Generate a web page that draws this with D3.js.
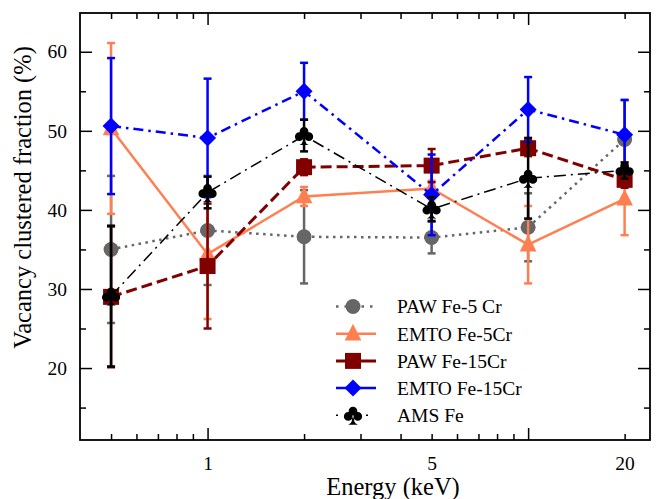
<!DOCTYPE html>
<html>
<head>
<meta charset="utf-8">
<style>
  body { margin: 0; background: #fff; }
  svg { display: block; font-family: "Liberation Serif", "Times New Roman", serif; }
</style>
</head>
<body>
<svg width="659" height="499"></svg>
<script src="https://d3js.org/d3.v7.min.js"></script>
<script>

// energies (keV) shared by all series
var energies = [0.5, 1, 2, 5, 10, 20];

var paw5 = [35.0, 37.4, 36.6, 36.5, 37.8, 48.9];
var paw5Err = [9.3, 6.9, 5.9, 2.0, 4.3, 5.0];

var emto5 = [50.3, 34.4, 41.7, 42.7, 35.6, 41.4];
var emto5Err = [10.8, 8.2, 1.2, 1.0, 4.9, 4.6];

var paw15 = [29.0, 32.9, 45.4, 45.6, 47.8, 43.8];
var paw15Err = [8.9, 7.9, 1.0, 2.1, 1.0, 1.0];

var emto15 = [50.6, 49.1, 55.0, 41.9, 52.7, 49.5];
var emto15Err = [8.6, 7.5, 3.6, 5.1, 4.1, 4.4];

var ams = [29.1, 42.2, 49.4, 40.1, 44.0, 45.0];
var amsErr = [8.9, 2.0, 2.0, 1.5, 5.1, 1.0];

var seriesNames = ["PAW Fe-5 Cr", "EMTO Fe-5Cr", "PAW Fe-15Cr", "EMTO Fe-15Cr", "AMS Fe"];

var xTicks = [0.5, 0.6, 0.7, 0.8, 0.9, 1, 2, 3, 4, 5, 6, 7, 8, 9, 10, 20];
var xLabels = [1, 5, 20];
var xMajor = [1, 10];
var yTicks = [15, 20, 25, 30, 35, 40, 45, 50, 55, 60];
var yLabels = [20, 30, 40, 50, 60];

var svg = d3.select("svg"),
    pL = 80, pR = 650, pT = 13, pB = 440;

var x = d3.scaleLog().domain([0.4, 24]).range([pL, pR]);
var y = d3.scaleLinear().domain([10.9, 64.9]).range([pB, pT]);

// club marker
function club(s) {
  var p = d3.path(), r = s * 0.23;
  [[0, -s * 0.22], [-s * 0.25, s * 0.06], [s * 0.25, s * 0.06]].forEach(function(c) {
    p.moveTo(c[0] + r, c[1]);
    p.arc(c[0], c[1], r, 0, 2 * Math.PI);
  });
  p.moveTo(-s * 0.05, 0);
  p.lineTo(-s * 0.06, s * 0.3);
  p.quadraticCurveTo(-s * 0.1, s * 0.45, -s * 0.25, s * 0.5);
  p.lineTo(s * 0.25, s * 0.5);
  p.quadraticCurveTo(s * 0.1, s * 0.45, s * 0.06, s * 0.3);
  p.lineTo(s * 0.05, 0);
  p.closePath();
  return p.toString();
}
function tri(s) {
  return "M0," + (-s * 0.62) + "L" + (s * 0.52) + "," + (s * 0.42) + "L" + (-s * 0.52) + "," + (s * 0.42) + "Z";
}
function diamond(s) {
  return "M0," + (-s) + "L" + s + ",0L0," + s + "L" + (-s) + ",0Z";
}
function square(s) {
  return "M" + (-s) + "," + (-s) + "h" + (2 * s) + "v" + (2 * s) + "h" + (-2 * s) + "Z";
}
function circle(s) {
  var p = d3.path(); p.moveTo(s, 0); p.arc(0, 0, s, 0, 2 * Math.PI); return p.toString();
}

var series = [
  {name: seriesNames[0], v: paw5, e: paw5Err, color: "#666666", dash: "2.5,4.5", legDash: "2.5,6", width: 2.5, marker: circle(7.5)},
  {name: seriesNames[1], v: emto5, e: emto5Err, color: "#FF7F50", dash: null, legDash: null, width: 2.5, marker: tri(16)},
  {name: seriesNames[2], v: paw15, e: paw15Err, color: "#800000", dash: "11,5", legDash: null, width: 3, marker: square(8)},
  {name: seriesNames[3], v: emto15, e: emto15Err, color: "#0000FF", dash: "10,5,2.5,5", legDash: null, width: 2.5, marker: diamond(8.5)},
  {name: seriesNames[4], v: ams, e: amsErr, color: "#000000", dash: "12,5,2,5", legDash: "2,8", width: 1.5, marker: club(19)}
];

var line = d3.line()
    .x(function(d, i) { return x(energies[i]); })
    .y(function(d) { return y(d); });

series.forEach(function(s) {
  var g = svg.append("g");

  g.append("path")
      .datum(s.v)
      .attr("fill", "none")
      .attr("stroke", s.color)
      .attr("stroke-width", s.width)
      .attr("stroke-dasharray", s.dash)
      .attr("d", line);

  var eb = g.selectAll(".eb").data(s.v).enter().append("g")
      .attr("transform", function(d, i) { return "translate(" + x(energies[i]) + ",0)"; })
      .attr("stroke", s.color)
      .attr("stroke-width", 2.5);
  eb.append("line")
      .attr("y1", function(d, i) { return y(d - s.e[i]); })
      .attr("y2", function(d, i) { return y(d + s.e[i]); });
  eb.append("line")
      .attr("x1", -4).attr("x2", 4)
      .attr("y1", function(d, i) { return y(d - s.e[i]); })
      .attr("y2", function(d, i) { return y(d - s.e[i]); });
  eb.append("line")
      .attr("x1", -4).attr("x2", 4)
      .attr("y1", function(d, i) { return y(d + s.e[i]); })
      .attr("y2", function(d, i) { return y(d + s.e[i]); });

  g.selectAll(".mk").data(s.v).enter().append("path")
      .attr("d", s.marker)
      .attr("fill", s.color)
      .attr("transform", function(d, i) { return "translate(" + x(energies[i]) + "," + y(d) + ")"; });
});

// axes
function fmtX(d) { return xLabels.indexOf(d) >= 0 ? d : ""; }
function fmtY(d) { return yLabels.indexOf(d) >= 0 ? d : ""; }

var axB = svg.append("g").attr("transform", "translate(0," + pB + ")")
    .call(d3.axisBottom(x).tickValues(xTicks).tickFormat(fmtX).tickSize(-6).tickPadding(16));
var axT = svg.append("g").attr("transform", "translate(0," + pT + ")")
    .call(d3.axisTop(x).tickValues(xTicks).tickFormat("").tickSize(-6));
var axL = svg.append("g").attr("transform", "translate(" + pL + ",0)")
    .call(d3.axisLeft(y).tickValues(yTicks).tickFormat(fmtY).tickSize(-6).tickPadding(13));
var axR = svg.append("g").attr("transform", "translate(" + pR + ",0)")
    .call(d3.axisRight(y).tickValues(yTicks).tickFormat("").tickSize(-6));

[axB, axT, axL, axR].forEach(function(a) {
  a.select(".domain").remove();
  a.selectAll("line").attr("stroke", "#000").attr("stroke-width", 1.5);
  a.selectAll("text").attr("fill", "#000").style("font-size", "19.5px").style("font-family", "Liberation Serif");
});
axB.selectAll(".tick line").filter(function(d) { return xMajor.indexOf(d) >= 0; }).attr("y2", -12);
axT.selectAll(".tick line").filter(function(d) { return xMajor.indexOf(d) >= 0; }).attr("y2", 12);
axL.selectAll(".tick line").filter(function(d) { return yLabels.indexOf(d) >= 0; }).attr("x2", 12);
axR.selectAll(".tick line").filter(function(d) { return yLabels.indexOf(d) >= 0; }).attr("x2", -12);

svg.append("rect")
    .attr("x", pL).attr("y", pT)
    .attr("width", pR - pL).attr("height", pB - pT)
    .attr("fill", "none").attr("stroke", "#000").attr("stroke-width", 1.8);

svg.append("text")
    .attr("x", 393).attr("y", 495)
    .attr("text-anchor", "middle")
    .style("font-size", "24.5px")
    .text("Energy (keV)");

svg.append("text")
    .attr("transform", "translate(31,197.5) rotate(-90)")
    .attr("text-anchor", "middle")
    .style("font-size", "24.5px")
    .text("Vacancy clustered fraction (%)");

// legend
var leg = svg.append("g").selectAll("g").data(series).enter().append("g")
    .attr("transform", function(d, i) { return "translate(353," + (306.5 + i * 27.2) + ")"; });
leg.append("line")
    .attr("x1", -17).attr("x2", 23)
    .attr("stroke", function(d) { return d.color; })
    .attr("stroke-width", function(d) { return d.width; })
    .attr("stroke-dasharray", function(d) { return d.legDash; });
leg.append("path")
    .attr("d", function(d) { return d.marker; })
    .attr("fill", function(d) { return d.color; });
leg.append("text")
    .attr("x", 44).attr("dy", "0.35em")
    .style("font-size", "19.5px")
    .text(function(d) { return d.name; });

</script>
</body>
</html>
